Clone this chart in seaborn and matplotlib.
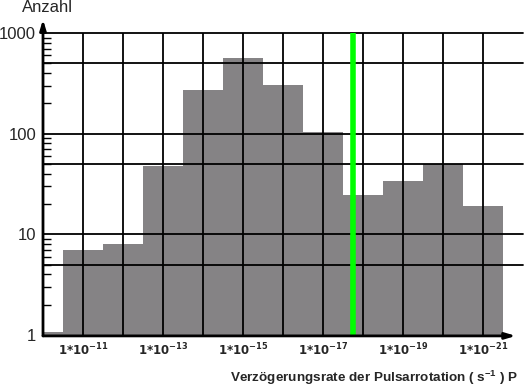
import matplotlib
matplotlib.use("Agg")
import matplotlib.pyplot as plt
import seaborn as sns
import pandas as pd

# data: exponent magnitude n of 1*10^-n and counts
exponents = [10, 11, 12, 13, 14, 15, 16, 17, 18, 19, 20, 21]
counts = [1.06, 7.0, 8.0, 48, 271, 563, 304, 103, 24.6, 33.8, 49.6, 19.1]
label_exps = [11, 13, 15, 17, 19, 21]
y_labels = ["1", "10", "100", "1000"]
marker_exp = 17.75

sns.set_theme(style="white")
plt.rcParams['font.family'] = ['Liberation Sans', 'DejaVu Sans']
plt.rcParams['mathtext.fontset'] = 'custom'
plt.rcParams['mathtext.rm'] = 'Liberation Sans'
plt.rcParams['mathtext.bf'] = 'Liberation Sans:bold'

fig = plt.figure(figsize=(5.24, 3.86), dpi=100)
ax = fig.add_axes([43/524, 1-335/386, 480/524, 302/386])

df = pd.DataFrame({"exp": exponents, "count": counts})
sns.barplot(data=df, x="exp", y="count", native_scale=True, width=1.0,
            color="#858385", saturation=1, edgecolor="none", linewidth=0, ax=ax, zorder=1)
ax.set_yscale("log")
ax.set_ylim(1, 1000)
ax.set_xlim(10, 22)

# gridlines over bars
for e in range(11, 22):
    ax.axvline(e, color="black", lw=1.3, zorder=3)
for v in [5, 10, 50, 100, 500, 1000]:
    ax.axhline(v, color="black", lw=1.3, zorder=3, clip_on=False)

ax.axvline(marker_exp, color="#00ff00", lw=4, zorder=4)

for s in ["top", "right", "left", "bottom"]:
    ax.spines[s].set_visible(False)

# axes with arrows
ax.annotate("", xy=(0, 1.045), xytext=(0, -0.003), xycoords="axes fraction",
            arrowprops=dict(arrowstyle="-|>,head_length=0.5,head_width=0.15", lw=2, color="black",
                            shrinkA=0, shrinkB=0), zorder=5, annotation_clip=False)
ax.annotate("", xy=(0.985, -0.003), xytext=(0, -0.003), xycoords="axes fraction",
            arrowprops=dict(arrowstyle="-|>,head_length=0.5,head_width=0.15", lw=2, color="black",
                            shrinkA=0, shrinkB=0), zorder=5, annotation_clip=False)

ax.set_xticks(label_exps)
ax.set_xticklabels([r"$\mathbf{1{*}10^{-%d}}$" % e for e in label_exps])
for lbl in ax.get_xticklabels():
    lbl.set_math_fontfamily("dejavusans")
ax.set_yticks([1, 10, 100, 1000])
ax.set_yticklabels(y_labels)
ax.tick_params(axis="x", length=0, pad=5, labelsize=8.5)
ax.tick_params(axis="y", which="major", length=0, pad=5, labelsize=12)
ax.yaxis.set_tick_params(which="minor", direction="in", length=6, width=1, color="black", left=True)
ax.set_xlabel("")
ax.set_ylabel("")

fig.text(22/524, 1-8/386, "Anzahl", fontsize=12, va="center", ha="left")
fig.text(518/524, 1-378/386, r"Verzögerungsrate der Pulsarrotation ( s$^{\mathbf{-1}}$ ) P",
         fontsize=9.7, fontweight="bold", ha="right", va="center")

fig.savefig("out.png", dpi=100)
